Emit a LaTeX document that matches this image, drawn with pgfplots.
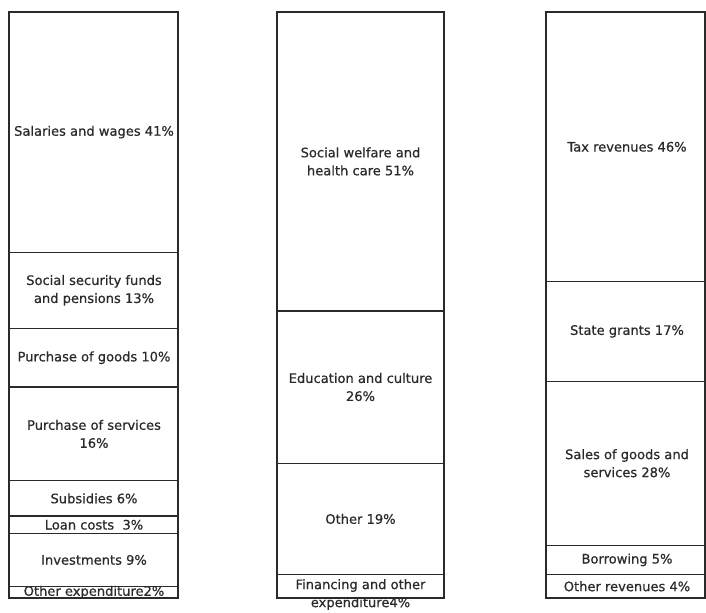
\documentclass[border=0pt]{standalone}
\usepackage{fontspec}
\setmainfont{DejaVu Sans}
\newfontfamily\labfont{DejaVu Sans}[FakeBold=0.6]
\usepackage{pgfplots}
\pgfplotsset{compat=1.18}
\definecolor{barc}{HTML}{2A2A2A}
\definecolor{txt}{HTML}{2A2A2A}
\pgfplotsset{
  colbar/.style={
    at={(0,0)}, anchor=south west,
    scale only axis, width=529.5pt, height=459pt,
    xmin=0, xmax=706, ymin=-2.389, ymax=102.048,
    axis lines=none, ticks=none, clip=false,
    ybar stacked,
  },
  seg/.style={fill=white, draw=barc, line width=1pt},
}
\tikzset{lab/.style={align=center, text=txt, font=\labfont\fontsize{9.8pt}{13.5pt}\selectfont, inner sep=0pt}}
\begin{document}
\begin{tikzpicture}
% Expenditure by type
\begin{axis}[colbar]
\addplot[seg, bar width=169] coordinates {(93.5,2)};
\addplot[seg, bar width=169] coordinates {(93.5,9)};
\addplot[seg, bar width=169] coordinates {(93.5,3)};
\addplot[seg, bar width=169] coordinates {(93.5,6)};
\addplot[seg, bar width=169] coordinates {(93.5,16)};
\addplot[seg, bar width=169] coordinates {(93.5,10)};
\addplot[seg, bar width=169] coordinates {(93.5,13)};
\addplot[seg, bar width=169] coordinates {(93.5,41)};
\end{axis}
% Expenditure by function
\begin{axis}[colbar]
\addplot[seg, bar width=167] coordinates {(360.5,4)};
\addplot[seg, bar width=167] coordinates {(360.5,19)};
\addplot[seg, bar width=167] coordinates {(360.5,26)};
\addplot[seg, bar width=167] coordinates {(360.5,51)};
\end{axis}
% Revenues
\begin{axis}[colbar]
\addplot[seg, bar width=159] coordinates {(625.5,4)};
\addplot[seg, bar width=159] coordinates {(625.5,5)};
\addplot[seg, bar width=159] coordinates {(625.5,28)};
\addplot[seg, bar width=159] coordinates {(625.5,17)};
\addplot[seg, bar width=159] coordinates {(625.5,46)};
\end{axis}
% Labels
\begin{axis}[colbar]
\node[lab] at (axis cs:94,79.5) {Salaries and wages 41\%};
\node[lab] at (axis cs:94,52.5) {Social security funds\\and pensions 13\%};
\node[lab] at (axis cs:94,41) {Purchase of goods 10\%};
\node[lab] at (axis cs:94,28) {Purchase of services\\16\%};
\node[lab] at (axis cs:94,17) {Subsidies 6\%};
\node[lab] at (axis cs:94,12.5) {Loan costs\ \ 3\%};
\node[lab] at (axis cs:94,6.5) {Investments 9\%};
\node[lab] at (axis cs:94,1) {Other expenditure2\%};
\node[lab] at (axis cs:360.5,74.5) {Social welfare and\\health care 51\%};
\node[lab] at (axis cs:360.5,36) {Education and culture\\26\%};
\node[lab] at (axis cs:360.5,13.5) {Other 19\%};
\node[lab] at (axis cs:360.5,0.6) {Financing and other\\expenditure4\%};
\node[lab] at (axis cs:627,77) {Tax revenues 46\%};
\node[lab] at (axis cs:627,45.5) {State grants 17\%};
\node[lab] at (axis cs:627,23) {Sales of goods and\\services 28\%};
\node[lab] at (axis cs:627,6.5) {Borrowing 5\%};
\node[lab] at (axis cs:627,2) {Other revenues 4\%};
\end{axis}
\pgfresetboundingbox
\useasboundingbox (0,0) rectangle (529.5pt,459pt);
\end{tikzpicture}
\end{document}
